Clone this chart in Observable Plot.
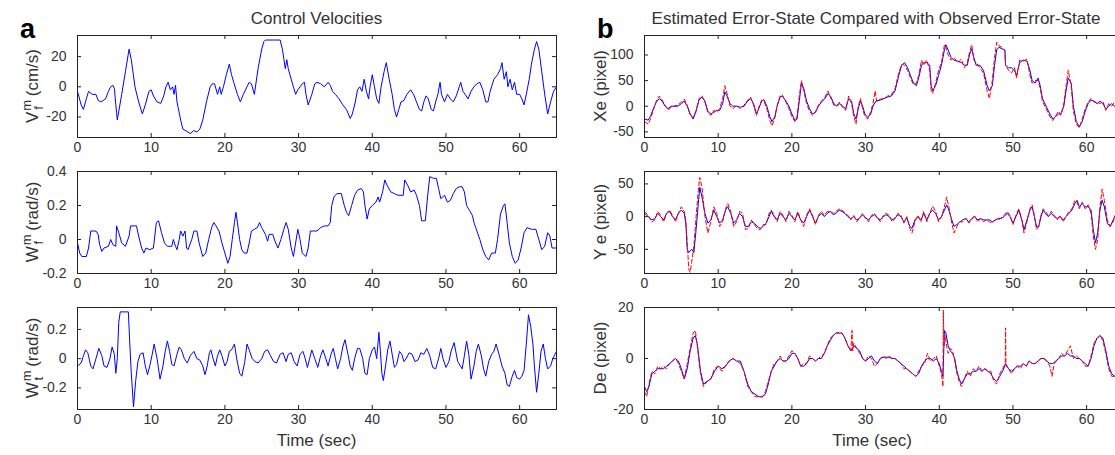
<!DOCTYPE html>
<html><head><meta charset="utf-8">
<script src="https://cdn.jsdelivr.net/npm/d3@7"></script>
<script src="https://cdn.jsdelivr.net/npm/@observablehq/plot@0.6"></script>
<style>
html,body{margin:0;padding:0;background:#fff;overflow:hidden;}
#wrap{position:relative;width:1115px;height:455px;overflow:hidden;font-family:'Liberation Sans',Arial,sans-serif;}
#wrap svg{position:absolute;}
</style></head><body><div id="wrap"></div>
<script>
// ---------- data ([time sec, value]) ----------
const xTicks = [0,10,20,30,40,50,60];
const vfTicks = [-20,0,20];
const wfTicks = [-0.2,0,0.2,0.4];
const wtTicks = [-0.2,0,0.2];
const xeTicks = [-50,0,50,100];
const yeTicks = [-50,0,50];
const deTicks = [-20,0,20];

const vf = [[0,-3],[0.5,-12],[0.8,-15],[1.2,-8],[1.5,-3],[2,-5],[2.5,-5],[2.8,-9],[3.2,-10],[3.8,-8],[4.2,-3],[4.5,0],[4.8,1],[5,-1],[5.2,-12],[5.3,-17],[5.4,-22],[6,-5],[6.5,10],[7,25],[7.3,18],[7.8,0],[8.3,-10],[8.8,-18],[9.2,-12],[9.7,-3],[10,-2],[10.3,-6],[10.8,-10],[11.3,-11],[11.7,-6],[12,0],[12.3,3],[12.6,-2],[12.9,0],[13.1,-5],[13.3,1],[13.5,-10],[14,-22],[14.3,-28],[15,-30],[15.3,-31],[15.8,-29],[16.2,-30],[16.6,-28],[17,-22],[17.5,-10],[18,0],[18.3,2],[18.6,2],[19,-5],[19.3,0],[19.5,-5],[19.8,0],[20.2,8],[20.6,15],[20.9,8],[21.2,3],[21.7,-5],[22.1,-10],[22.5,-5],[23,0],[23.3,3],[23.6,2],[24,-5],[24.5,12],[25,25],[25.3,30],[25.5,31],[26,31],[26.5,31],[27,31],[27.5,31],[27.8,25],[28.2,12],[28.4,18],[28.6,12],[29,5],[29.3,0],[29.6,-5],[29.9,-2],[30.2,0],[30.5,2],[30.8,3],[31,-5],[31.3,-12],[31.8,-5],[32.2,2],[32.5,3],[33,2],[33.5,0],[34,3],[34.3,1],[34.6,-3],[35,-5],[35.5,-8],[36,-12],[36.5,-15],[37,-21],[37.3,-18],[37.7,-10],[38,-2],[38.3,0],[38.6,-3],[38.9,5],[39.2,-3],[39.5,-8],[39.7,0],[40,8],[40.3,0],[40.6,-8],[40.9,-11],[41.2,0],[41.6,10],[41.9,16],[42.3,5],[42.7,-5],[43,-15],[43.3,-20],[43.6,-15],[43.9,-10],[44.3,-9],[44.7,-5],[45.2,-2],[45.6,-5],[46,-10],[46.4,-15],[46.7,-16],[47,-10],[47.3,-6],[47.6,-8],[48,-15],[48.3,-16],[48.6,-10],[48.9,-5],[49.2,3],[49.4,-5],[49.8,-10],[50.2,-5],[50.6,-8],[51,-10],[51.4,-6],[51.8,0],[52,3],[52.3,-3],[52.6,-5],[53,-8],[53.4,-3],[53.8,0],[54.2,2],[54.6,3],[55,-2],[55.4,-10],[55.7,-10],[56,-3],[56.5,5],[57,8],[57.4,12],[57.6,16],[57.9,5],[58.2,10],[58.4,0],[58.7,5],[59,-2],[59.3,3],[59.6,-5],[60,-5],[60.3,-8],[60.6,-12],[60.9,-5],[61.3,5],[61.6,15],[62,25],[62.3,30],[62.6,25],[63,10],[63.4,-5],[63.8,-18],[64.2,-10],[64.6,-3],[65,0]];

const wf = [[0,-0.02],[0.3,-0.08],[0.6,-0.1],[1.2,-0.1],[1.5,-0.05],[1.8,0.05],[2.5,0.05],[2.8,0.03],[3,-0.03],[3.3,-0.07],[3.6,-0.05],[4.2,-0.04],[4.5,0],[4.8,-0.03],[5.2,-0.04],[5.3,0.08],[5.6,0.04],[6,-0.02],[6.5,-0.04],[7,0.02],[7.2,0.08],[8,0.08],[8.3,0.02],[8.7,-0.05],[9,-0.08],[9.3,-0.05],[9.8,-0.06],[10.3,-0.05],[10.7,0.1],[11,0.11],[11.4,0.04],[11.8,-0.02],[12.2,-0.04],[12.8,-0.04],[13,0],[13.3,-0.04],[13.5,-0.06],[13.8,0],[14,0.05],[14.3,0.02],[14.6,0.05],[14.8,-0.05],[15,-0.06],[15.5,0],[15.8,0.05],[16.2,0.05],[16.5,-0.02],[17,-0.1],[17.4,-0.08],[17.8,0],[18.2,0.07],[18.5,0.1],[18.8,0.08],[19.2,0.05],[19.6,-0.02],[20,-0.08],[20.4,-0.14],[20.7,-0.1],[21,0],[21.3,0.1],[21.5,0.16],[21.7,0.1],[22,0],[22.3,-0.06],[22.6,-0.08],[23,-0.08],[23.3,-0.02],[23.6,0.05],[24,0.06],[24.4,0.07],[24.7,0.1],[25,0.07],[25.5,0.03],[25.8,-0.01],[26,0.03],[26.5,0.03],[26.8,-0.01],[27.2,-0.05],[27.6,0],[28,0.06],[28.3,0.1],[28.6,0.06],[29,-0.05],[29.3,-0.1],[29.6,-0.02],[29.9,0.06],[30.2,0],[30.5,-0.08],[31,-0.1],[31.3,-0.05],[31.6,0.05],[32,0.05],[32.5,0.05],[33,0.07],[33.5,0.08],[34,0.08],[34.3,0.1],[34.5,0.2],[34.8,0.25],[35.2,0.27],[35.8,0.27],[36.2,0.2],[36.5,0.16],[36.8,0.14],[37.2,0.2],[37.6,0.26],[38,0.29],[38.5,0.3],[38.8,0.28],[39,0.2],[39.3,0.12],[39.6,0.18],[40,0.2],[40.5,0.22],[40.8,0.25],[41,0.22],[41.4,0.28],[41.7,0.35],[42,0.32],[42.5,0.28],[43,0.27],[43.5,0.26],[44.2,0.26],[44.4,0.35],[44.8,0.32],[45.2,0.28],[45.7,0.29],[46,0.26],[46.4,0.2],[46.7,0.11],[47.2,0.11],[47.5,0.25],[47.8,0.37],[48.3,0.36],[48.7,0.36],[49,0.3],[49.3,0.24],[49.8,0.26],[50.2,0.22],[50.6,0.23],[51,0.27],[51.4,0.3],[51.8,0.31],[52.2,0.31],[52.5,0.28],[52.8,0.2],[53.2,0.17],[53.6,0.14],[53.8,0.1],[54.2,0.05],[54.6,0],[55,-0.06],[55.4,-0.1],[55.8,-0.12],[56.2,-0.08],[56.7,-0.08],[57,0],[57.4,0.15],[57.8,0.2],[58,0.21],[58.3,0.1],[58.6,-0.02],[59,-0.1],[59.4,-0.14],[59.8,-0.12],[60.2,-0.05],[60.6,0.04],[61,0.07],[61.6,0.06],[62.2,0.06],[62.6,0],[63,-0.06],[63.4,-0.04],[63.8,0.04],[64.1,0.02],[64.4,-0.05],[65,-0.05]];

const wt = [[0,-0.05],[0.5,-0.03],[0.8,0.02],[1.1,0.06],[1.4,0.04],[1.8,-0.05],[2.1,-0.07],[2.5,0],[2.9,0.07],[3.3,0.02],[3.6,-0.05],[4,-0.06],[4.4,0],[4.7,0.08],[5,0.03],[5.2,-0.1],[5.4,0],[5.6,0.25],[5.8,0.32],[6.5,0.32],[6.9,0.32],[7.1,0.1],[7.3,-0.1],[7.6,-0.33],[7.9,-0.15],[8.2,-0.02],[8.5,0.03],[8.9,0.04],[9.2,-0.05],[9.5,-0.11],[9.8,-0.05],[10.1,0.02],[10.4,0.1],[10.8,0],[11.2,-0.14],[11.6,-0.05],[11.9,0.05],[12.2,0.12],[12.5,0.05],[12.8,-0.04],[13.1,-0.05],[13.5,0.03],[13.8,0.08],[14.1,0.06],[14.5,0],[14.9,-0.03],[15.3,0.02],[15.8,0.05],[16.2,0],[16.6,-0.01],[17,-0.05],[17.3,-0.11],[17.6,-0.05],[17.9,0.04],[18.1,0.06],[18.4,0],[18.7,-0.05],[19,0.02],[19.3,0.06],[19.6,0.02],[20,-0.05],[20.3,-0.02],[20.6,0.05],[20.9,0.06],[21.3,0.1],[21.6,0],[22,-0.1],[22.3,-0.12],[22.7,-0.02],[23,0.1],[23.3,0.06],[23.7,0],[24.1,-0.02],[24.5,-0.03],[25,0],[25.4,0.05],[25.8,0.06],[26.2,0.02],[26.6,-0.02],[27,-0.03],[27.5,0.03],[27.9,0.04],[28.3,-0.02],[28.6,0.03],[29,0.04],[29.4,-0.02],[29.8,-0.05],[30.2,0.03],[30.6,0.05],[30.9,0],[31.2,-0.06],[31.5,0],[31.8,0.06],[32.2,0],[32.6,-0.06],[33,0.02],[33.3,0.06],[33.7,0],[34,-0.05],[34.4,0.03],[34.7,0.07],[35,0],[35.3,-0.07],[35.7,0],[36,0.08],[36.3,0.13],[36.7,0.03],[37,-0.05],[37.3,-0.08],[37.6,0],[38,0.07],[38.3,0.07],[38.7,0],[39,-0.1],[39.3,-0.11],[39.6,0],[40,0.06],[40.3,0.08],[40.6,0],[40.9,0.18],[41.1,0.05],[41.3,-0.1],[41.5,-0.15],[41.8,-0.05],[42.1,0.06],[42.4,0.12],[42.7,0.03],[43,-0.06],[43.3,-0.04],[43.7,0.05],[44,0.03],[44.3,-0.02],[44.6,0],[45,0.04],[45.4,0.03],[45.8,-0.02],[46.2,-0.01],[46.6,0.04],[47,0.03],[47.4,0.07],[47.8,0.02],[48.2,-0.06],[48.6,-0.07],[49,0],[49.3,0.07],[49.6,0],[50,-0.06],[50.4,-0.02],[50.7,0.05],[51.1,0.11],[51.6,-0.02],[52.2,-0.07],[52.5,0.02],[52.8,0.12],[53.1,0.03],[53.4,-0.14],[53.8,-0.05],[54.1,0.05],[54.4,0.1],[54.8,0.02],[55.1,-0.07],[55.4,-0.12],[55.8,-0.02],[56.2,0.03],[56.5,0.05],[56.8,0.1],[57.2,0.03],[57.6,-0.05],[58,-0.1],[58.3,-0.18],[58.6,-0.19],[59,-0.12],[59.3,-0.08],[59.6,-0.13],[60,-0.14],[60.3,-0.12],[60.6,-0.08],[60.9,0.1],[61.2,0.3],[61.5,0.22],[61.8,0.1],[62,-0.05],[62.3,-0.23],[62.6,-0.1],[62.9,0.05],[63.2,0.1],[63.5,0],[63.8,-0.07],[64.2,-0.05],[64.5,0],[65,0.05]];

const xeEst = [[0,-25],[0.5,-27],[0.8,-20],[1.2,-5],[1.6,8],[2,15],[2.4,10],[2.8,0],[3.2,-5],[3.6,0],[4,0],[4.5,0],[5,5],[5.4,10],[5.8,0],[6.2,-15],[6.6,-25],[7,-10],[7.4,12],[7.8,18],[8.2,10],[8.6,-10],[9,-15],[9.4,-12],[9.8,-8],[10.2,-8],[10.6,5],[10.9,28],[11.2,20],[11.6,5],[12,0],[12.5,0],[13,-2],[13.5,0],[14,10],[14.4,15],[14.8,5],[15.2,-15],[15.5,-5],[15.9,10],[16.2,13],[16.6,0],[17,-20],[17.3,-30],[17.7,-20],[18,0],[18.4,18],[18.7,20],[19.2,10],[19.6,0],[20,-15],[20.4,-28],[20.7,-25],[21,10],[21.3,45],[21.6,35],[22,10],[22.4,-5],[22.8,-15],[23.2,-12],[23.6,0],[24,8],[24.5,15],[24.9,25],[25.3,18],[25.7,5],[26.1,0],[26.5,5],[26.9,0],[27.3,-5],[27.7,15],[28.1,10],[28.4,-15],[28.7,-25],[29,-5],[29.3,10],[29.6,0],[29.9,-15],[30.3,-22],[30.7,-15],[31,0],[31.4,10],[32,12],[32.5,15],[33,18],[33.5,20],[34,30],[34.5,60],[34.9,80],[35.3,85],[35.7,75],[36.1,60],[36.5,45],[36.9,40],[37.2,55],[37.6,80],[37.9,85],[38.3,85],[38.7,80],[38.9,40],[39.1,30],[39.5,40],[39.9,60],[40.3,80],[40.7,110],[40.9,120],[41.2,110],[41.6,95],[42,90],[42.5,88],[43,85],[43.4,80],[43.8,80],[44.1,100],[44.4,112],[44.7,95],[45,80],[45.5,80],[46,70],[46.5,40],[46.8,30],[47.2,40],[47.5,80],[47.8,110],[48.1,115],[48.5,112],[48.9,110],[49,80],[49.4,75],[49.8,75],[50.2,70],[50.5,60],[50.9,85],[51.4,90],[51.9,88],[52.3,70],[52.6,50],[53,45],[53.4,55],[53.7,40],[54,15],[54.5,0],[55,-15],[55.4,-25],[55.8,-20],[56.2,-15],[56.5,-15],[56.9,0],[57.2,30],[57.5,55],[57.9,45],[58.2,0],[58.6,-30],[59,-40],[59.4,-30],[59.8,-10],[60.2,5],[60.6,12],[61,10],[61.4,5],[61.8,10],[62.2,5],[62.6,-5],[63,0],[63.4,5],[63.8,0],[64.2,5],[64.6,0],[65,5]];

const xeObs = [[0,-30],[0.5,-35],[0.8,-25],[1.2,-8],[1.6,10],[2,20],[2.4,12],[2.8,2],[3.2,-8],[3.6,-2],[4,0],[4.5,2],[5,8],[5.4,14],[5.8,2],[6.2,-18],[6.6,-22],[7,-8],[7.4,15],[7.8,20],[8.2,8],[8.6,-12],[9,-18],[9.4,-8],[9.8,-12],[10.2,-5],[10.6,15],[10.9,40],[11.2,25],[11.6,0],[12,-5],[12.5,2],[13,-5],[13.5,2],[14,12],[14.4,18],[14.8,2],[15.2,-18],[15.5,-2],[15.9,12],[16.2,10],[16.6,-5],[17,-28],[17.3,-38],[17.7,-22],[18,2],[18.4,20],[18.7,22],[19.2,8],[19.6,-5],[20,-20],[20.4,-30],[20.7,-20],[21,20],[21.3,50],[21.6,30],[22,5],[22.4,-10],[22.8,-18],[23.2,-10],[23.6,2],[24,10],[24.5,18],[24.9,30],[25.3,15],[25.7,2],[26.1,2],[26.5,8],[26.9,-3],[27.3,-8],[27.7,20],[28.1,5],[28.4,-20],[28.7,-35],[29,0],[29.3,15],[29.6,-5],[29.9,-20],[30.3,-25],[30.7,-10],[31,5],[31.3,30],[31.5,10],[32,14],[32.5,15],[33,20],[33.5,22],[34,35],[34.5,65],[34.9,82],[35.3,80],[35.7,70],[36.1,55],[36.5,42],[36.9,45],[37.2,60],[37.6,90],[37.9,80],[38.3,90],[38.7,70],[38.9,30],[39.1,25],[39.5,45],[39.9,70],[40.3,85],[40.7,120],[40.9,115],[41.2,100],[41.6,90],[42,95],[42.5,85],[43,92],[43.4,75],[43.8,85],[44.1,105],[44.4,120],[44.7,90],[45,85],[45.5,75],[46,65],[46.5,30],[46.8,15],[47.2,50],[47.5,95],[47.8,125],[48.1,118],[48.5,115],[48.9,108],[49,80],[49.4,70],[49.8,65],[50.2,75],[50.5,55],[50.9,90],[51.4,88],[51.9,92],[52.3,60],[52.6,45],[53,50],[53.4,50],[53.7,35],[54,10],[54.5,-5],[55,-20],[55.4,-28],[55.8,-18],[56.2,-10],[56.5,-18],[56.9,5],[57.2,40],[57.5,70],[57.9,40],[58.2,-10],[58.6,-35],[59,-42],[59.4,-25],[59.8,-5],[60.2,8],[60.6,15],[61,8],[61.4,8],[61.8,5],[62.2,10],[62.6,-8],[63,5],[63.4,0],[63.8,8],[64.2,0],[64.6,5],[65,0]];

const yeEst = [[0,5],[0.5,0],[1,-5],[1.4,-3],[1.8,5],[2.2,0],[2.6,-5],[3,5],[3.4,8],[3.8,0],[4.2,-5],[4.6,5],[5,10],[5.4,5],[5.6,-10],[5.8,-50],[6,-55],[6.4,-50],[6.7,-55],[7,-20],[7.3,20],[7.5,45],[7.8,30],[8.2,5],[8.6,-10],[9,-5],[9.4,10],[9.8,0],[10.2,-10],[10.6,-5],[11,10],[11.3,15],[11.7,5],[12.1,-10],[12.5,-5],[12.9,5],[13.3,0],[13.7,-15],[14.1,-15],[14.5,-8],[14.9,-10],[15.3,-15],[15.7,-18],[16.1,-15],[16.5,-10],[16.9,0],[17.2,8],[17.6,0],[18,-5],[18.4,5],[18.8,0],[19.2,-5],[19.6,5],[20,0],[20.4,-5],[20.8,5],[21.2,-5],[21.6,-10],[22,0],[22.4,10],[22.8,0],[23.2,-10],[23.6,0],[24,5],[24.4,0],[24.8,5],[25.2,8],[25.6,3],[26,5],[26.4,10],[26.8,8],[27.2,5],[27.6,0],[28,-3],[28.4,0],[28.8,-5],[29.2,-2],[29.6,3],[30,-2],[30.4,-5],[30.8,0],[31.2,3],[31.6,-2],[32,-5],[32.4,0],[32.8,3],[33.2,0],[33.6,-5],[34,-2],[34.4,3],[34.8,0],[35.2,-8],[35.6,-2],[36,-15],[36.3,-18],[36.7,-5],[37.1,0],[37.5,-5],[37.9,5],[38.3,-5],[38.7,5],[39.1,10],[39.5,5],[39.9,-5],[40.3,0],[40.7,10],[41,18],[41.3,10],[41.7,-5],[42,-15],[42.4,-12],[42.8,-8],[43.2,-5],[43.6,-3],[44,-8],[44.4,-3],[44.8,0],[45.2,-5],[45.6,-3],[46,-5],[46.4,-5],[46.8,-5],[47.2,-8],[47.6,-5],[48,-3],[48.4,-3],[48.8,0],[49.2,5],[49.6,0],[50,-10],[50.4,0],[50.8,10],[51.2,-5],[51.5,-20],[51.9,-5],[52.3,10],[52.6,15],[52.9,0],[53.2,-15],[53.5,-15],[53.8,0],[54.1,10],[54.4,5],[54.8,0],[55.2,5],[55.6,0],[56,-3],[56.4,0],[56.8,-5],[57.2,0],[57.6,5],[58,10],[58.4,20],[58.7,25],[59,15],[59.4,20],[59.8,15],[60.2,15],[60.6,10],[60.9,-20],[61.2,-40],[61.5,-25],[61.8,10],[62.1,25],[62.4,15],[62.8,-10],[63.2,-15],[63.6,-5],[64,5],[64.4,3],[65,0]];

const yeObs = [[0,8],[0.5,2],[1,-8],[1.4,-5],[1.8,8],[2.2,2],[2.6,-8],[3,5],[3.4,10],[3.8,2],[4.2,-8],[4.6,5],[5,15],[5.4,8],[5.6,-5],[5.8,-40],[6,-80],[6.2,-85],[6.4,-70],[6.7,-45],[7,0],[7.3,40],[7.5,60],[7.8,45],[8.2,0],[8.6,-25],[9,-8],[9.4,15],[9.8,5],[10.2,-15],[10.6,-8],[11,12],[11.3,20],[11.7,8],[12.1,-15],[12.5,-8],[12.9,8],[13.3,5],[13.7,-20],[14.1,-18],[14.5,-5],[14.9,-12],[15.3,-18],[15.7,-20],[16.1,-12],[16.5,-12],[16.9,5],[17.2,10],[17.6,2],[18,-8],[18.4,8],[18.8,2],[19.2,-8],[19.6,8],[20,2],[20.4,-8],[20.8,8],[21.2,-5],[21.6,-15],[22,2],[22.4,12],[22.8,2],[23.2,-12],[23.6,2],[24,8],[24.4,2],[24.8,8],[25.2,8],[25.6,5],[26,8],[26.4,12],[26.8,10],[27.2,5],[27.6,2],[28,-5],[28.4,2],[28.8,-8],[29.2,-2],[29.6,5],[30,-3],[30.4,-8],[30.8,2],[31.2,5],[31.6,-2],[32,-8],[32.4,2],[32.8,5],[33.2,2],[33.6,-8],[34,-3],[34.4,5],[34.8,2],[35.2,-10],[35.6,0],[36,-18],[36.3,-25],[36.7,-8],[37.1,2],[37.5,-8],[37.9,8],[38.3,-8],[38.7,5],[39.1,16],[39.5,8],[39.9,-8],[40.3,0],[40.7,15],[41,30],[41.3,15],[41.7,-10],[42,-25],[42.4,-15],[42.8,-8],[43.2,-8],[43.6,-2],[44,-10],[44.4,-5],[44.8,2],[45.2,-8],[45.6,-3],[46,-8],[46.4,-5],[46.8,-8],[47.2,-10],[47.6,-5],[48,-5],[48.4,-2],[48.8,2],[49.2,8],[49.6,2],[50,-12],[50.4,2],[50.8,12],[51.2,-5],[51.5,-25],[51.9,-8],[52.3,12],[52.6,18],[52.9,2],[53.2,-20],[53.5,-15],[53.8,2],[54.1,12],[54.4,8],[54.8,2],[55.2,8],[55.6,2],[56,-5],[56.4,2],[56.8,-8],[57.2,0],[57.6,8],[58,12],[58.4,25],[58.7,22],[59,12],[59.4,22],[59.8,12],[60.2,18],[60.6,5],[60.9,-30],[61.2,-50],[61.5,-35],[61.8,15],[62.1,42],[62.4,25],[62.8,-5],[63.2,-15],[63.6,-8],[64,5],[64.4,5],[65,2]];

const deEst = [[0,-11],[0.3,-13],[0.6,-11],[1,-6],[1.4,-5],[1.8,-4],[2.2,-4],[2.6,-4],[3,-3],[3.4,-2],[3.8,-1],[4.2,0],[4.6,-1],[5,-4],[5.4,-8],[5.8,-4],[6.2,3],[6.6,8],[6.9,9],[7.2,5],[7.6,-5],[8,-10],[8.5,-9],[9,-8],[9.5,-5],[10,-3],[10.5,-4],[11,-3],[11.5,-1],[12,0],[12.5,-1],[13,-1],[13.5,-5],[14,-10],[14.5,-13],[15,-14],[15.5,-15],[16,-15],[16.4,-14],[16.8,-10],[17.2,-5],[17.6,-3],[18,-1],[18.4,0],[18.8,-1],[19.2,-1],[19.6,0],[20,2],[20.4,2],[20.8,0],[21.2,-3],[21.6,-3],[22,-2],[22.4,0],[22.8,0],[23.2,-1],[23.6,0],[24,0],[24.4,2],[24.8,5],[25.2,7],[25.6,9],[26,10],[26.4,10],[26.8,10],[27.2,8],[27.6,5],[28,3],[28.4,5],[28.8,4],[29.2,3],[29.6,0],[30,-1],[30.4,0],[30.8,1],[31.2,-1],[31.6,-2],[32,0],[32.4,0.5],[32.8,0.5],[33.2,0.5],[33.6,0],[34,0],[34.4,-1],[34.8,-2],[35.2,-3],[35.6,-4],[36,-5],[36.4,-6],[36.8,-7],[37.2,-6],[37.6,-3],[38,-1],[38.4,0],[38.8,0],[39.2,-1],[39.6,0],[40,-2],[40.3,-5],[40.5,-7],[40.7,11],[40.9,10],[41.2,5],[41.5,3],[41.8,2],[42.1,0],[42.4,-5],[42.7,-8],[43,-10],[43.4,-8],[43.8,-6],[44.2,-6],[44.6,-5],[45,-5],[45.4,-4],[45.8,-5],[46.2,-4],[46.6,-5],[47,-6],[47.4,-8],[47.8,-9],[48.2,-7],[48.6,-5],[49,-2],[49.4,-4],[49.8,-5],[50.2,-4],[50.6,-3],[51,-3],[51.4,-2],[51.8,-3],[52.2,-1],[52.6,-2],[53,-2],[53.4,-1],[53.8,0],[54.2,0],[54.6,-1],[55,-2],[55.4,-2],[55.8,-1],[56.2,0],[56.6,1],[57,1],[57.4,2],[57.8,1],[58.2,1],[58.6,0],[59,0],[59.4,-1],[59.8,-2],[60.2,-3],[60.6,0],[61,5],[61.4,8],[61.8,9],[62.2,8],[62.6,3],[63,-3],[63.4,-6],[63.8,-7],[64.2,-5],[65,-3]];

const deObs = [[0,-13],[0.3,-15],[0.6,-10],[1,-5],[1.4,-6],[1.8,-3],[2.2,-4],[2.6,-3],[3,-4],[3.4,-2],[3.8,-1],[4.2,0],[4.6,-2],[5,-5],[5.4,-8],[5.8,-2],[6.2,4],[6.6,10],[6.9,11],[7.2,4],[7.6,-6],[8,-11],[8.5,-9],[9,-8],[9.5,-4],[10,-3],[10.5,-5],[11,-3],[11.5,-1],[12,0],[12.5,-1],[13,-2],[13.5,-5],[14,-11],[14.5,-13],[15,-15],[15.5,-15],[16,-15],[16.4,-13],[16.8,-9],[17.2,-5],[17.6,-2],[18,-1],[18.4,1],[18.8,-1],[19.2,-1],[19.6,1],[20,3],[20.4,2],[20.8,0],[21.2,-3],[21.6,-2],[22,-2],[22.4,1],[22.8,0],[23.2,-1],[23.6,0],[24,1],[24.4,2],[24.8,5],[25.2,8],[25.6,9],[26,10],[26.4,10],[26.8,10],[27.2,8],[27.6,5],[28,3],[28.15,11],[28.25,3],[28.4,6],[28.8,4],[29.2,2],[29.6,0],[30,-1],[30.4,1],[30.8,0],[31.2,-3],[31.6,-2],[32,0],[32.4,1],[32.8,0],[33.2,1],[33.6,0],[34,0],[34.4,-1],[34.8,-2],[35.2,-4],[35.6,-4],[36,-5],[36.4,-6],[36.8,-7],[37.2,-5],[37.6,-3],[38,-2],[38.4,2],[38.8,-1],[39.2,0],[39.6,1],[40,-3],[40.3,-6],[40.5,-11],[40.55,19],[40.65,5],[40.8,9],[41,5],[41.2,2],[41.5,4],[41.8,3],[42.1,-1],[42.4,-6],[42.7,-9],[43,-11],[43.4,-8],[43.8,-5],[44.2,-7],[44.6,-4],[45,-5],[45.4,-3],[45.8,-5],[46.2,-4],[46.6,-5],[47,-5],[47.4,-9],[47.8,-10],[48.2,-6],[48.6,-4],[48.95,-2],[49,12],[49.05,-3],[49.4,-4],[49.8,-6],[50.2,-4],[50.6,-3],[51,-4],[51.4,-2],[51.8,-3],[52.2,-1],[52.6,-2],[53,-2],[53.4,-1],[53.8,0],[54.2,0],[54.6,-1],[55,-3],[55.3,-7],[55.6,-2],[56.2,0],[56.6,2],[57,1],[57.4,3],[57.8,5],[58.2,0],[58.6,1],[59,0],[59.4,-1],[59.8,-3],[60.2,-3],[60.6,1],[61,6],[61.4,8],[61.8,9],[62.2,7],[62.6,2],[63,-4],[63.4,-7],[63.8,-7],[64.2,-5],[65,-2]];

// ---------- drawing ----------
const wrap = document.getElementById("wrap");
const INK = "#222";
const TXT = "#333";
const FONT = "'Liberation Sans', Arial, sans-serif";

function panel({est, obs, yDomain, yTicks, left, frameTop}) {
  const W = 560, mt = 10, mb = 30, ml = 77, mr = 4, ih = 102, H = mt + ih + mb, iw = W - ml - mr;
  const marks = [
    Plot.line(est, {x: d => d[0], y: d => d[1], stroke: "#0000ff", strokeWidth: 1, clip: true})
  ];
  if (obs) marks.push(Plot.line(obs, {x: d => d[0], y: d => d[1], stroke: "#ff0000", strokeWidth: 1, strokeDasharray: "4,2.5", clip: true}));
  marks.push(
    Plot.frame({stroke: INK}),
    Plot.ruleX(xTicks, {x: d => d, insetTop: ih - 4, stroke: INK}),
    Plot.ruleX(xTicks, {x: d => d, insetBottom: ih - 4, stroke: INK}),
    Plot.ruleY(yTicks, {y: d => d, insetRight: iw - 4, stroke: INK}),
    Plot.ruleY(yTicks, {y: d => d, insetLeft: iw - 4, stroke: INK}),
    Plot.axisX(xTicks, {tickSize: 0, tickPadding: 5, tickFormat: d => String(d), label: null, fill: TXT}),
    Plot.axisY(yTicks, {tickSize: 0, tickPadding: 11, tickFormat: d => String(d), label: null, fill: TXT})
  );
  const svg = Plot.plot({
    width: W, height: H, marginTop: mt, marginBottom: mb, marginLeft: ml, marginRight: mr,
    x: {domain: [0, 65]}, y: {domain: yDomain},
    style: {fontSize: "14px", fontFamily: FONT, color: INK, background: "transparent", overflow: "visible"},
    marks
  });
  svg.style.left = left + "px";
  svg.style.top = (frameTop - mt) + "px";
  wrap.appendChild(svg);
}

const tops = [35, 171, 307];
panel({est: vf, yDomain: [-33.6, 34], yTicks: vfTicks, left: 0, frameTop: tops[0]});
panel({est: wf, yDomain: [-0.2, 0.4], yTicks: wfTicks, left: 0, frameTop: tops[1]});
panel({est: wt, yDomain: [-0.348, 0.35], yTicks: wtTicks, left: 0, frameTop: tops[2]});
panel({est: xeEst, obs: xeObs, yDomain: [-61, 138], yTicks: xeTicks, left: 567, frameTop: tops[0]});
panel({est: yeEst, obs: yeObs, yDomain: [-87, 69], yTicks: yeTicks, left: 567, frameTop: tops[1]});
panel({est: deEst, obs: deObs, yDomain: [-20, 20], yTicks: deTicks, left: 567, frameTop: tops[2]});

// ---------- text overlay ----------
const ov = d3.create("svg").attr("width", 1115).attr("height", 455)
  .style("left", "0px").style("top", "0px").style("font-family", FONT).attr("fill", TXT);
ov.append("text").attr("x", 20).attr("y", 38).attr("font-size", 27).attr("font-weight", "bold").attr("fill", "#000").text("a");
ov.append("text").attr("x", 597).attr("y", 38).attr("font-size", 27).attr("font-weight", "bold").attr("fill", "#000").text("b");
ov.append("text").attr("x", 316.5).attr("y", 24).attr("font-size", 17).attr("text-anchor", "middle").text("Control Velocities");
ov.append("text").attr("x", 876).attr("y", 24).attr("font-size", 17).attr("text-anchor", "middle").text("Estimated Error-State Compared with Observed Error-State");
ov.append("text").attr("x", 316.5).attr("y", 446).attr("font-size", 17).attr("text-anchor", "middle").text("Time (sec)");
ov.append("text").attr("x", 872).attr("y", 446).attr("font-size", 17).attr("text-anchor", "middle").text("Time (sec)");

function symLabel(cy, base, sub, unit) {
  const t = ov.append("text").attr("transform", `translate(38,${cy}) rotate(-90)`).attr("font-size", 17).attr("text-anchor", "middle");
  t.append("tspan").text(base);
  t.append("tspan").attr("dx", 1).attr("dy", -7).attr("font-size", 13).text("m");
  t.append("tspan").attr("dx", -10).attr("dy", 12).attr("font-size", 13).text(sub);
  t.append("tspan").attr("dx", 10).attr("dy", -5).text(unit);
}
symLabel(86, "V", "f", "(cm/s)");
symLabel(222, "W", "f", "(rad/s)");
symLabel(358, "W", "t", "(rad/s)");
[["Xe (pixel)", 86], ["Y e (pixel)", 222], ["De (pixel)", 358]].forEach(([s, cy]) => {
  ov.append("text").attr("transform", `translate(606,${cy}) rotate(-90)`).attr("font-size", 17).attr("text-anchor", "middle").text(s);
});
wrap.appendChild(ov.node());
</script></body></html>
